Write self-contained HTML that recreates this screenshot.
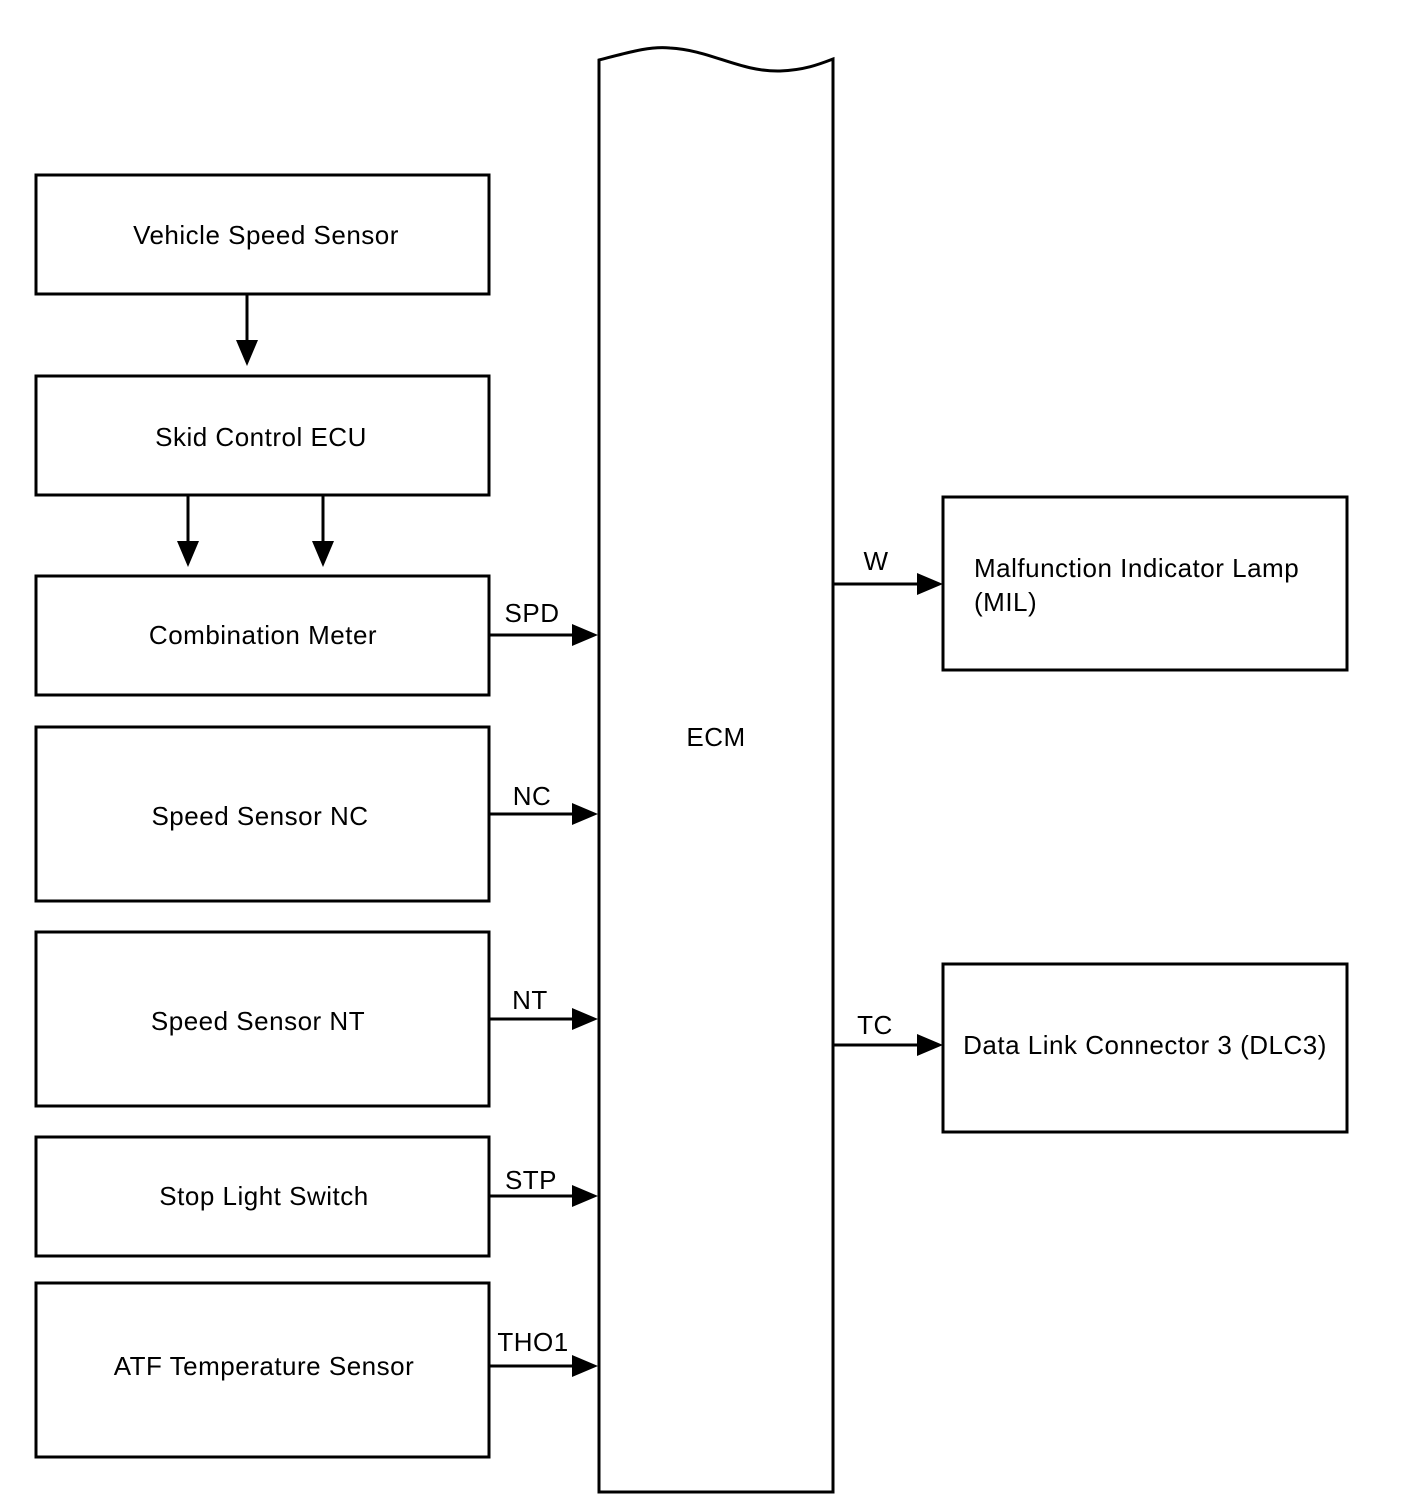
<!DOCTYPE html>
<html><head><meta charset="utf-8"><style>
html,body{margin:0;padding:0;background:#fff;}
svg{display:block;}
text{font-family:"Liberation Sans",Arial,sans-serif;font-size:26px;letter-spacing:0.5px;fill:#000;}
</style></head><body>
<svg width="1408" height="1500" viewBox="0 0 1408 1500" xmlns="http://www.w3.org/2000/svg">
<g fill="none" stroke="#000" stroke-width="3">
<rect x="36" y="175" width="453" height="119"/>
<rect x="36" y="376" width="453" height="119"/>
<rect x="36" y="576" width="453" height="119"/>
<rect x="36" y="727" width="453" height="174"/>
<rect x="36" y="932" width="453" height="174"/>
<rect x="36" y="1137" width="453" height="119"/>
<rect x="36" y="1283" width="453" height="174"/>
<rect x="943" y="497" width="404" height="173"/>
<rect x="943" y="964" width="404" height="168"/>
<path d="M599 1492 L599 60 C630 52 650 46 670 48 C710 50 740 72 780 71 C805 70 820 64 833 59 L833 1492 Z"/>
<line x1="247" y1="294" x2="247" y2="345"/>
<line x1="188" y1="495" x2="188" y2="545"/>
<line x1="323" y1="495" x2="323" y2="545"/>
<line x1="489" y1="635" x2="575" y2="635"/>
<line x1="489" y1="814" x2="575" y2="814"/>
<line x1="489" y1="1019" x2="575" y2="1019"/>
<line x1="489" y1="1196" x2="575" y2="1196"/>
<line x1="489" y1="1366" x2="575" y2="1366"/>
<line x1="833" y1="584" x2="920" y2="584"/>
<line x1="833" y1="1045" x2="920" y2="1045"/>
</g>
<g fill="#000">
<polygon points="236,340 258,340 247,366"/>
<polygon points="177,541 199,541 188,567"/>
<polygon points="312,541 334,541 323,567"/>
<polygon points="572,624 572,646 598,635"/>
<polygon points="572,803 572,825 598,814"/>
<polygon points="572,1008 572,1030 598,1019"/>
<polygon points="572,1185 572,1207 598,1196"/>
<polygon points="572,1355 572,1377 598,1366"/>
<polygon points="917,573 917,595 943,584"/>
<polygon points="917,1034 917,1056 943,1045"/>
</g>
<g text-anchor="middle">
<text x="266" y="244">Vehicle Speed Sensor</text>
<text x="261" y="446">Skid Control ECU</text>
<text x="263" y="644">Combination Meter</text>
<text x="260" y="825">Speed Sensor NC</text>
<text x="258" y="1030">Speed Sensor NT</text>
<text x="264" y="1205">Stop Light Switch</text>
<text x="264" y="1375">ATF Temperature Sensor</text>
<text x="716" y="746">ECM</text>
<text x="532" y="622">SPD</text>
<text x="532" y="805">NC</text>
<text x="530" y="1009">NT</text>
<text x="531" y="1189">STP</text>
<text x="533" y="1351">THO1</text>
<text x="876" y="570">W</text>
<text x="875" y="1034">TC</text>
<text x="1145" y="1054">Data Link Connector 3 (DLC3)</text>
</g>
<text x="974" y="577">Malfunction Indicator Lamp</text>
<text x="974" y="611">(MIL)</text>
</svg>
</body></html>
